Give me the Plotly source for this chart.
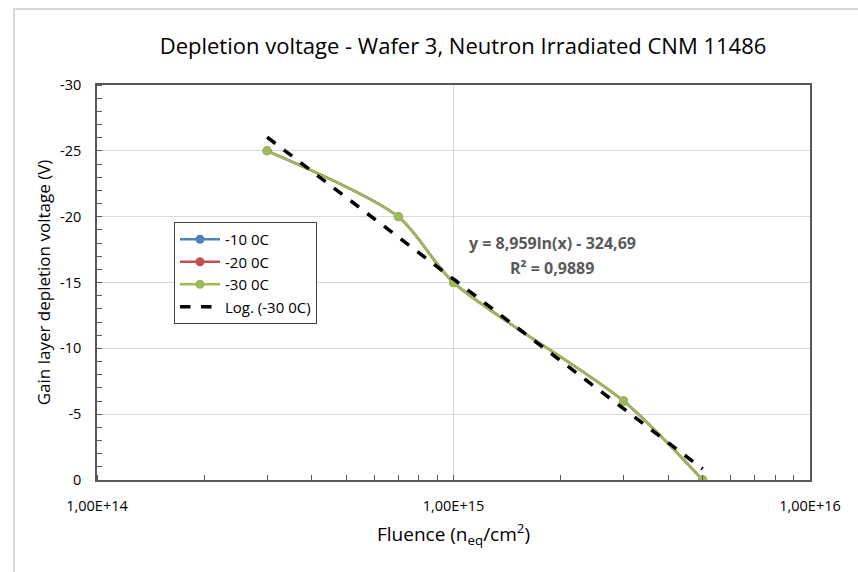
import plotly.graph_objects as go

# Data
fluence = [3e14, 7e14, 1e15, 3e15, 5e15]
v_m10 = [-25, -20, -15, -6, 0]
v_m20 = [-25, -20, -15, -6, 0]
v_m30 = [-25, -20, -15, -6, 0]
trend_x = [3e14, 5e15]
trend_y = [-26.04, -0.84]
series_names = ["-10 0C", "-20 0C", "-30 0C"]
series_colors = ["#4F81BD", "#C0504D", "#9BBB59"]
x_tickvals = [1e14, 1e15, 1e16]
x_ticktext = ["1,00E+14", "1,00E+15", "1,00E+16"]
y_tickvals = [0, -5, -10, -15, -20, -25, -30]

W, H = 858, 572
L, R, T, B = 97, 810, 85, 480

fig = go.Figure()
for name, vals, col in zip(series_names, [v_m10, v_m20, v_m30], series_colors):
    fig.add_trace(go.Scatter(
        x=fluence, y=vals, name=name, mode="lines+markers",
        line=dict(color=col, width=2.5, shape="spline", smoothing=0.8),
        marker=dict(color=col, size=9),
    ))
fig.add_trace(go.Scatter(
    x=trend_x, y=trend_y, name="Log. (-30 0C)", mode="lines",
    line=dict(color="black", width=3.5, dash="dash"),
))

def px2paper_x(p):
    return (p - L) / (R - L)

def px2paper_y(p):
    return (B - p) / (B - T)

fig.update_layout(
    width=W, height=H,
    margin=dict(l=L, r=W - R, t=T, b=H - B),
    paper_bgcolor="white", plot_bgcolor="white",
    font=dict(family="Open Sans", color="#404040"),
    title=dict(text="Depletion voltage - Wafer 3, Neutron Irradiated CNM 11486",
               x=px2paper_x(463), xref="paper", xanchor="center",
               y=1 - 46 / H, yanchor="middle",
               font=dict(size=22, color="#000000", family="Open Sans")),
    showlegend=True,
    legend=dict(x=px2paper_x(174), y=px2paper_y(222), xanchor="left", yanchor="top",
                bgcolor="white", bordercolor="#404040", borderwidth=1,
                font=dict(size=15, color="#000000"), tracegroupgap=0,
                itemwidth=40),
    xaxis=dict(type="log", range=[14, 16], tickvals=x_tickvals, ticktext=x_ticktext,
               showgrid=True, gridcolor="#D9D9D9", gridwidth=1,
               showline=True, linecolor="#595959", linewidth=1.5, mirror=True,
               ticks="", ticklabelstandoff=12, tickfont=dict(size=14.5, color="#000000"),
               minor=dict(ticks="inside", ticklen=5, tickcolor="#595959", dtick="D1", showgrid=False),
               title=dict(text="Fluence (n<sub>eq</sub>/cm<sup>2</sup>)",
                          font=dict(size=19, color="#000000"), standoff=14),
               zeroline=False),
    yaxis=dict(range=[0, -30], tickvals=y_tickvals, ticktext=[str(v) for v in y_tickvals],
               showgrid=True, gridcolor="#D9D9D9", gridwidth=1,
               showline=True, linecolor="#595959", linewidth=1.5, mirror=True,
               ticks="", ticklabelstandoff=11, tickfont=dict(size=14.5, color="#000000"),
               minor=dict(ticks="inside", ticklen=5, tickcolor="#595959", dtick=1, showgrid=False),
               title=dict(text="Gain layer depletion voltage (V)",
                          font=dict(size=17, color="#000000"), standoff=5),
               zeroline=False),
    annotations=[
        dict(text="<b>y = 8,959ln(x) - 324,69</b>", xref="paper", yref="paper",
             x=px2paper_x(552), y=px2paper_y(243), showarrow=False,
             font=dict(size=16, color="#595959")),
        dict(text="<b>R² = 0,9889</b>", xref="paper", yref="paper",
             x=px2paper_x(552), y=px2paper_y(268), showarrow=False,
             font=dict(size=16, color="#595959")),
    ],
    shapes=[
        dict(type="rect", xref="paper", yref="paper",
             x0=px2paper_x(14), x1=px2paper_x(900), y0=px2paper_y(620), y1=px2paper_y(9),
             line=dict(color="#D9D9D9", width=2), fillcolor="rgba(0,0,0,0)", layer="below"),
    ],
)

fig.write_html("out.html")
